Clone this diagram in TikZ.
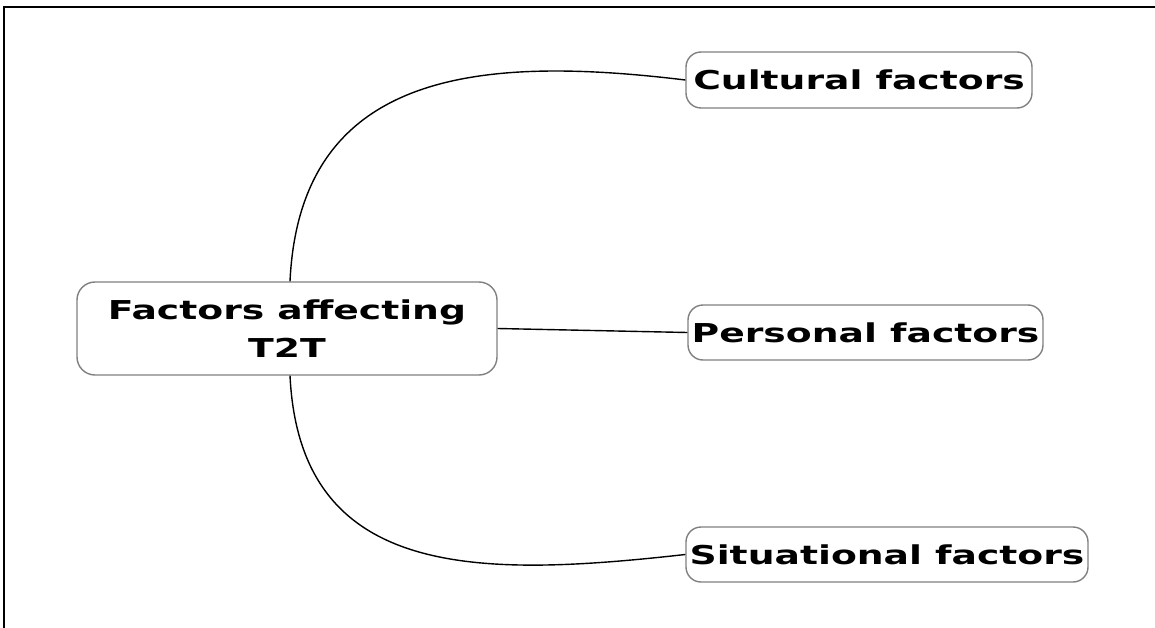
\documentclass[tikz,border=0pt]{standalone}
\usepackage{fontspec}
\newfontfamily\boxfont{DejaVu Sans}[FakeStretch=1.45]
\begin{document}
\begin{tikzpicture}[x=1pt,y=-1pt,
  box/.style={draw=black!50, line width=1.4pt, rounded corners=15pt, fill=white,
    font=\boxfont\bfseries\fontsize{26}{38}\selectfont, inner sep=0pt, align=center},
  link/.style={draw=black, line width=1.4pt}]
\useasboundingbox (0,0) rectangle (1155,628);
\draw[line width=2.2pt] (4,640) -- (4,7) -- (1170,7);
\node[box, minimum width=420pt, minimum height=93pt, rounded corners=18pt] (c) at (287,328.5) {Factors affecting\\T2T};
\node[box, minimum width=346pt, minimum height=56pt] (cul) at (859,80) {Cultural factors};
\node[box, minimum width=355pt, minimum height=55pt] (per) at (865.5,332.5) {Personal factors};
\node[box, minimum width=402pt, minimum height=55pt] (sit) at (887,554.5) {Situational factors};
\draw[link] ([xshift=3pt]c.north) .. controls +(10,-211) and +(-206,-25) .. (cul.west);
\draw[link] ([xshift=3pt]c.south) .. controls +(10,205) and +(-206,23) .. (sit.west);
\draw[link] (c.east) -- (per.west);
\end{tikzpicture}
\end{document}
